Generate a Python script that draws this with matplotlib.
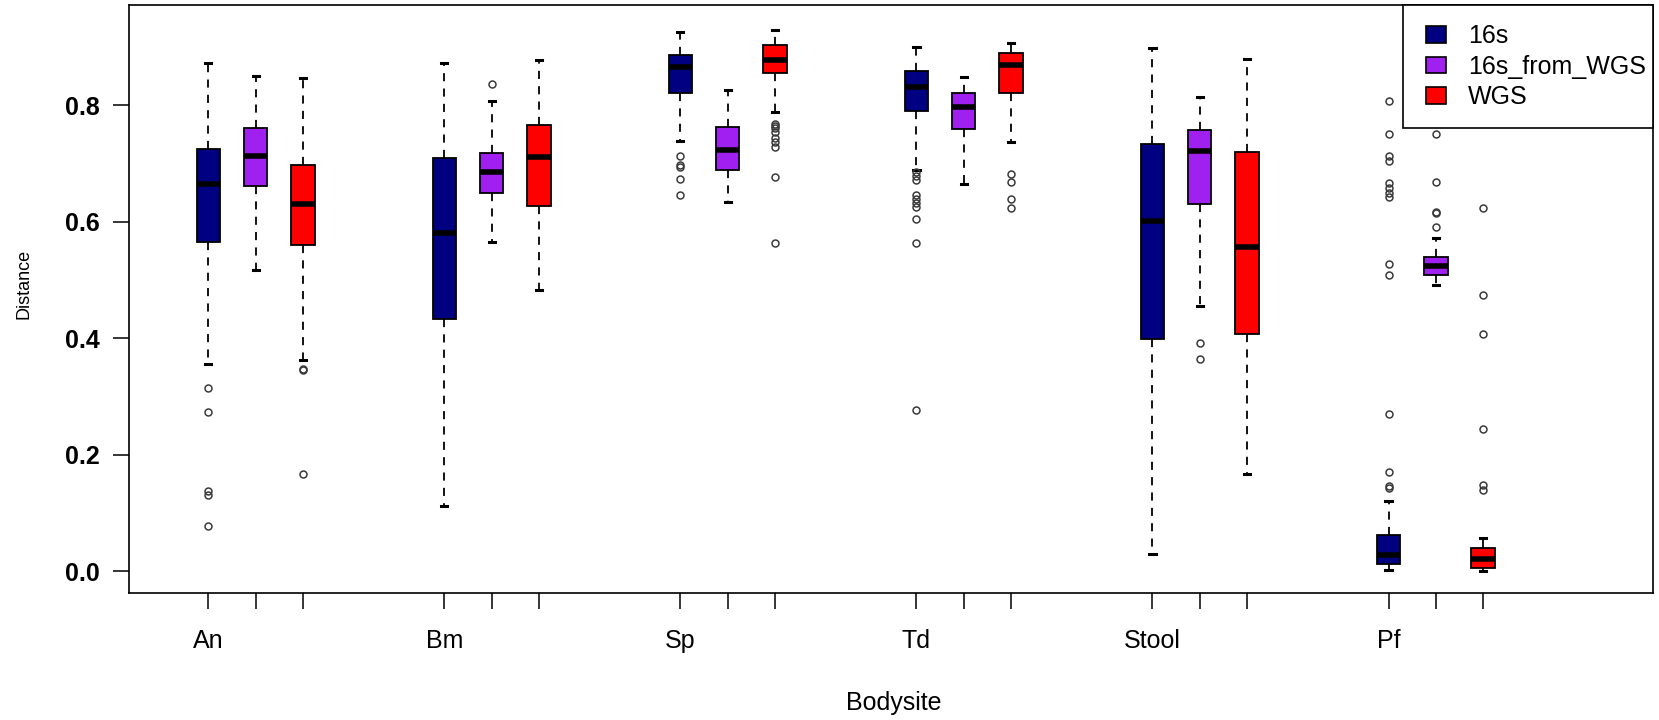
import matplotlib
matplotlib.use("Agg")
import matplotlib.pyplot as plt
from matplotlib.patches import Patch, Rectangle

plt.rcParams["font.family"] = ["Liberation Sans", "DejaVu Sans"]

bodysites = ["An", "Bm", "Sp", "Td", "Stool", "Pf"]
methods = ["16s", "16s_from_WGS", "WGS"]
colors = ["#000080", "#A020F0", "#FF0000"]

# per method, one value per bodysite
whishi_16s = [0.873, 0.873, 0.926, 0.900, 0.899, 0.120]
q3_16s = [0.725, 0.710, 0.886, 0.860, 0.733, 0.062]
med_16s = [0.665, 0.581, 0.866, 0.831, 0.601, 0.027]
q1_16s = [0.566, 0.433, 0.822, 0.791, 0.399, 0.012]
whislo_16s = [0.356, 0.111, 0.739, 0.690, 0.030, 0.002]
fliers_16s = [
    [0.314, 0.273, 0.138, 0.131, 0.078],
    [],
    [0.713, 0.697, 0.694, 0.673, 0.646],
    [0.685, 0.678, 0.672, 0.646, 0.639, 0.632, 0.626, 0.605, 0.564, 0.276],
    [],
    [0.807, 0.751, 0.713, 0.705, 0.667, 0.659, 0.650, 0.642, 0.527, 0.508,
     0.270, 0.170, 0.146, 0.143],
]

whishi_from = [0.850, 0.807, 0.826, 0.849, 0.814, 0.573]
q3_from = [0.762, 0.718, 0.763, 0.822, 0.758, 0.539]
med_from = [0.713, 0.686, 0.723, 0.797, 0.721, 0.524]
q1_from = [0.661, 0.649, 0.690, 0.759, 0.631, 0.508]
whislo_from = [0.517, 0.565, 0.634, 0.665, 0.456, 0.491]
fliers_from = [
    [],
    [0.837],
    [],
    [],
    [0.392, 0.365],
    [0.751, 0.669, 0.617, 0.615, 0.591],
]

whishi_wgs = [0.847, 0.878, 0.929, 0.907, 0.880, 0.057]
q3_wgs = [0.698, 0.766, 0.904, 0.890, 0.720, 0.040]
med_wgs = [0.630, 0.711, 0.878, 0.870, 0.557, 0.021]
q1_wgs = [0.560, 0.627, 0.855, 0.822, 0.407, 0.005]
whislo_wgs = [0.363, 0.483, 0.789, 0.738, 0.166, 0.000]
fliers_wgs = [
    [0.348, 0.345, 0.167],
    [],
    [0.768, 0.765, 0.762, 0.754, 0.744, 0.737, 0.728, 0.677, 0.564],
    [0.683, 0.668, 0.640, 0.624],
    [],
    [0.624, 0.474, 0.407, 0.244, 0.147, 0.140],
]

series = [
    (whislo_16s, q1_16s, med_16s, q3_16s, whishi_16s, fliers_16s),
    (whislo_from, q1_from, med_from, q3_from, whishi_from, fliers_from),
    (whislo_wgs, q1_wgs, med_wgs, q3_wgs, whishi_wgs, fliers_wgs),
]

fig = plt.figure(figsize=(16.59, 7.2), dpi=100)
ax = fig.add_axes([0.0778, 0.177, 0.9185, 0.8155])

all_pos = []
for s, (lo, q1, med, q3, hi, fl) in enumerate(series):
    stats = []
    pos = []
    for g in range(len(bodysites)):
        stats.append(dict(whislo=lo[g], q1=q1[g], med=med[g], q3=q3[g],
                          whishi=hi[g], fliers=fl[g]))
        pos.append(1 + 5 * g + s)
    all_pos += pos
    ax.bxp(stats, positions=pos, widths=0.5, capwidths=0.13,
           patch_artist=True, manage_ticks=False,
           boxprops=dict(facecolor=colors[s], edgecolor="black", linewidth=1.3),
           medianprops=dict(color="black", linewidth=4),
           whiskerprops=dict(color="black", linewidth=1.3, linestyle=(0, (4.5, 4))),
           capprops=dict(color="black", linewidth=2.2),
           flierprops=dict(marker="o", markersize=5, markerfacecolor="none",
                           markeredgecolor="#3a3a3a", markeredgewidth=1.1))

ax.set_xlim(-0.68, 31.6)
ax.set_ylim(-0.037, 0.972)

all_pos = sorted(all_pos)
ax.set_xticks(all_pos)
ax.set_xticklabels([bodysites[(p - 1) // 5] if (p - 1) % 5 == 0 else "" for p in all_pos],
                   fontsize=18)
ax.set_yticks([0.0, 0.2, 0.4, 0.6, 0.8])
ax.set_yticklabels(["0.0", "0.2", "0.4", "0.6", "0.8"], fontsize=18, fontweight="bold")
ax.tick_params(axis="x", length=11.5, width=1.1, pad=15)
ax.tick_params(axis="y", length=11.2, width=1.1, pad=10)

for sp in ax.spines.values():
    sp.set_linewidth(1.2)

fig.text(0.0145, 0.605, "Distance", rotation=90, fontsize=13, ha="center", va="center")
fig.text(0.539, 0.024, "Bodysite", fontsize=18, ha="center", va="center")

# legend box flush with the top right corner, R style
ax.add_patch(Rectangle((0.836, 0.791), 0.164, 0.209, transform=ax.transAxes,
                       facecolor="white", edgecolor="black", linewidth=1.2,
                       zorder=4.5, clip_on=False))
handles = [Patch(facecolor=c, edgecolor="black", linewidth=1.2) for c in colors]
leg = ax.legend(handles, methods, loc="upper left", bbox_to_anchor=(0.8511, 0.9675),
                fontsize=18, borderaxespad=0, borderpad=0, frameon=False,
                handlelength=0.8, handleheight=0.64, handletextpad=0.88,
                labelspacing=0.26)
leg.set_zorder(5)

fig.savefig("out.png", dpi=100)
